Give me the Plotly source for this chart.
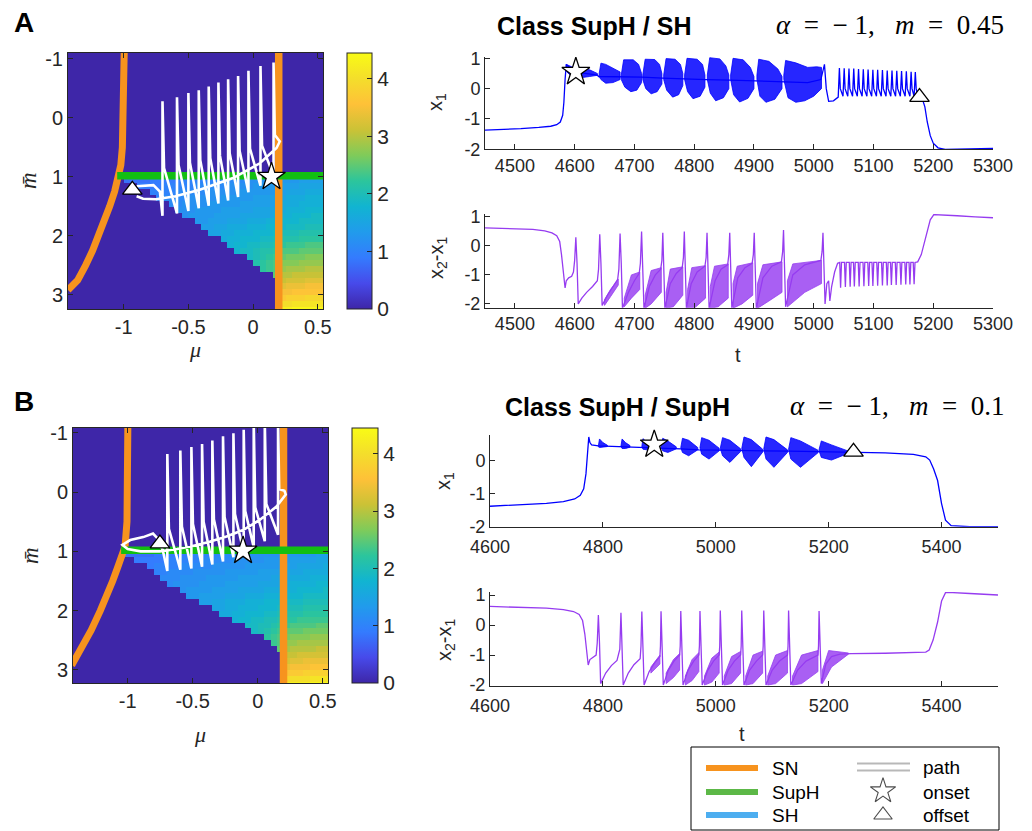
import plotly.graph_objects as go

W, H = 1032, 831

# ---------------- heatmap grid ----------------
MU_COLS = [-1.425 + 0.05 * j for j in range(40)]
MBAR_ROWS = [-1.05 + 0.1 * i for i in range(44)]
N_ZERO_ROWS = 21   # rows above m=1 are all 0

# values x10 for rows m = 1.05 ... 3.25 (leading zeros implied)
A_rows = [
    [8,8,8,8,9,9,9,9,9,10,10,10,10,10,11,11,11,11,11,12,12,12,12,12, 13,13,13,14,14,14,14],
    [9,9,9,9,10,10,10,10,10,11,11,11,11,11,12,12,12,12,13,13,13,13, 14,14,14,15,15,15,15],
    [10,10,10,10,11,11,11,11,11,12,12,12,12,12,13,13,13,13,13,13, 14,15,15,15,16,16,16],
    [10,11,11,11,11,12,12,12,12,12,13,13,13,13,13,14,14,14,14, 15,16,16,16,17,17,17],
    [11,11,12,12,12,12,13,13,13,13,13,14,14,14,14,14,14, 16,16,16,17,17,17,17],
    [12,12,12,13,13,13,13,14,14,14,14,14,15,15,15,15, 16,17,17,17,18,18,18],
    [12,13,13,13,13,14,14,14,14,15,15,15,15,15,16, 17,17,18,18,18,19,19],
    [13,13,14,14,14,15,15,15,16,16,16,17,17, 18,18,18,19,19,19,19],
    [14,14,15,15,16,16,16,17,17,17,18,18, 18,19,19,19,20,20,20],
    [15,15,16,16,17,17,17,18,18,18,19, 20,20,20,21,21,21,21],
    [16,17,17,18,18,18,19,19,20, 21,21,21,22,22,22,22],
    [17,18,18,19,19,20,20,21, 22,23,23,23,24,24,24],
    [18,19,19,20,21,21,22, 24,24,24,25,25,25,25],
    [19,20,21,22,23, 25,26,26,26,27,27,27],
    [21,22,23,24, 27,27,27,28,28,28,28],
    [22,23,24, 28,29,29,29,30,30,30],
    [25, 30,30,31,31,31,31,31],
    [31,32,32,32,33,33,33],
    [33,34,34,34,35,35,35],
    [35,35,36,36,36,36,36],
    [37,38,38,38,39,39,39],
    [40,40,41,41,41,41,41],
    [43,43,44,44,44,44,44],
]
B_rows = [
    [8,8,8,8,8,9,9,9,9,9,10,10,10,10,10,11,11,11,11,11,12,12,12,12,12, 12,13,13,13,13,14,14],
    [9,9,9,9,9,10,10,10,10,10,11,11,11,11,11,12,12,12,12,12,13,13,13, 13,14,14,14,14,15,15],
    [9,10,10,10,10,11,11,11,11,11,12,12,12,12,12,13,13,13,13,13,13, 14,14,15,15,15,15,16],
    [10,10,11,11,11,11,12,12,12,12,12,13,13,13,13,13,14,14,14,14, 15,15,15,16,16,16,16],
    [11,11,11,12,12,12,12,13,13,13,13,13,14,14,14,14,14,15,15, 15,16,16,16,17,17,17],
    [11,12,12,12,12,13,13,13,13,14,14,14,14,14,15,15,15,15, 16,17,17,17,17,18,18],
    [12,13,13,13,13,14,14,14,14,15,15,15,15,16,16,16, 17,17,18,18,18,18,19],
    [13,13,14,14,14,14,15,15,15,16,16,16,17,17,17, 18,18,18,19,19,19,19],
    [14,14,15,15,16,16,16,17,17,17,18,18,18, 19,19,19,20,20,20,20],
    [15,15,16,16,17,17,17,18,18,18,19, 20,20,20,21,21,21,21],
    [16,16,17,17,18,18,18,19,19,20, 21,21,21,22,22,22,22],
    [17,18,18,19,19,20,20,21, 22,22,23,23,23,23,23],
    [19,19,20,20,21,22, 23,24,24,24,24,25,25],
    [19,20,21,22,23, 25,25,25,26,26,26,26],
    [22,23,24, 26,27,27,27,28,28,28],
    [23,24, 28,28,29,29,29,29,29],
    [25, 29,30,30,30,30,31,31],
    [31,31,32,32,32,32,32],
    [32,33,33,34,34,34,34],
    [34,35,35,35,36,36,36],
    [36,37,37,38,38,38,38],
    [39,40,40,40,41,41,41],
    [42,43,43,43,44,44,44],
]

# ---------------- bifurcation curves ----------------
A_sn_mbar = [-1.2, -0.5, 0.0, 0.5, 0.8, 1.0, 1.25, 1.5, 1.75, 2.0, 2.25, 2.5, 2.75, 2.92]
A_sn_mu = [-0.995, -0.998, -1.0, -1.01, -1.022, -1.04, -1.07, -1.108, -1.15, -1.19, -1.24, -1.294, -1.355, -1.43]
B_sn_mbar = [-1.2, -0.5, 0.0, 0.5, 0.92, 1.0, 1.26, 1.5, 1.76, 2.0, 2.33, 2.6, 2.89, 2.92]
B_sn_mu = [-0.998, -1.0, -1.0, -1.005, -1.02, -1.03, -1.075, -1.115, -1.16, -1.21, -1.28, -1.345, -1.41, -1.43]
SN2_MU = 0.198
SUPH_MBAR = 0.98
SUPH_MU_START = -1.05

# ---------------- trajectory (path) ----------------
A_start_mu = [-0.90, -0.77, -0.72]
A_start_mbar = [1.16, 1.14, 1.25]
A_spike_mu = [-0.70, -0.588, -0.50, -0.42, -0.343, -0.268, -0.193, -0.116, -0.036, 0.057, 0.158]
A_spike_top = [-0.28, -0.35, -0.42, -0.47, -0.53, -0.60, -0.656, -0.71, -0.80, -0.88, -0.94]
A_spike_bot = [1.66, 1.62, 1.58, 1.53, 1.49, 1.45, 1.40, 1.34, 1.26, 1.15, 0.98]
A_split_mu = [-0.688, -0.576, -0.488, -0.408, -0.331, -0.256, -0.181, -0.104, -0.024, 0.069]
A_split_mbar = [0.85, 0.80, 0.76, 0.72, 0.68, 0.64, 0.60, 0.56, 0.52, 0.47]
A_end_mu = [0.168, 0.206, 0.181, 0.052, -0.155, -0.412, -0.60, -0.75, -0.85, -0.90]
A_end_mbar = [0.29, 0.40, 0.51, 0.77, 1.02, 1.22, 1.33, 1.38, 1.37, 1.33]
A_onset = (0.142, 1.0)
A_offset = (-0.933, 1.22)

B_start_mu = [-0.77, -0.73]
B_start_mbar = [0.78, 0.98]
B_spike_mu = [-0.695, -0.595, -0.51, -0.428, -0.349, -0.267, -0.187, -0.108, -0.031, 0.054, 0.156]
B_spike_top = [-0.64, -0.70, -0.76, -0.81, -0.87, -0.94, -0.99, -1.05, -1.2, -1.2, -1.2]
B_spike_bot = [1.33, 1.31, 1.29, 1.26, 1.22, 1.17, 1.10, 1.02, 0.93, 0.83, 0.72]
B_split_mu = [-0.683, -0.583, -0.498, -0.416, -0.337, -0.255, -0.175, -0.096, -0.019, 0.066]
B_split_mbar = [0.62, 0.58, 0.54, 0.50, 0.46, 0.42, 0.37, 0.32, 0.26, 0.20]
B_end_mu = [0.165, 0.205, 0.215, 0.144, 0.015, -0.113, -0.24, -0.37, -0.50, -0.62, -0.754, -0.90, -1.0, -1.04, -0.98, -0.88, -0.805, -0.77]
B_end_mbar = [-0.05, -0.02, 0.04, 0.245, 0.47, 0.64, 0.75, 0.84, 0.91, 0.96, 1.0, 1.0, 0.96, 0.89, 0.81, 0.76, 0.70, 0.78]
B_onset = (-0.113, 0.99)
B_offset = (-0.752, 0.87)

# ---------------- time series A ----------------
A_x1_t = [4450, 4480, 4510, 4540, 4560, 4570, 4576, 4580, 4582, 4584, 4586, 4600, 4620, 4638, 4640,
          4677, 4713, 4747, 4782, 4820, 4860, 4902, 4948, 4990, 5012, 5018, 5021, 5025, 5033, 5040,
          5041, 5043, 5044.5, 5049, 5051, 5052.5, 5057, 5059, 5060.5, 5065, 5067, 5068.5,
          5073, 5075, 5076.5, 5081, 5083, 5084.5, 5089, 5091, 5092.5, 5097, 5099, 5100.5,
          5105, 5107, 5108.5, 5113, 5115, 5116.5, 5121, 5123, 5124.5, 5129, 5131, 5132.5,
          5137, 5139, 5140.5, 5145, 5147, 5148.5, 5153, 5155, 5156.5, 5161, 5163, 5164.5,
          5168, 5170, 5171.5,
          5174, 5178, 5182, 5186, 5190, 5195, 5200, 5208, 5220, 5250, 5300]
A_x1_v = [-1.37, -1.35, -1.32, -1.28, -1.24, -1.19, -1.10, -0.88, -0.45, 0.30, 0.80, 0.55, 0.50, 0.45, 0.40,
          0.40, 0.38, 0.35, 0.32, 0.30, 0.28, 0.25, 0.22, 0.20, 0.30, 0.80, 0.0, -0.42, -0.40, -0.30,
          -0.28, 0.68, 0.0, -0.25, 0.67, 0.0, -0.25, 0.66, 0.0, -0.25, 0.66, 0.0,
          -0.25, 0.65, 0.0, -0.25, 0.64, 0.0, -0.25, 0.63, 0.0, -0.25, 0.62, 0.0,
          -0.25, 0.62, 0.0, -0.25, 0.61, 0.0, -0.25, 0.60, 0.0, -0.25, 0.60, 0.0,
          -0.25, 0.59, 0.0, -0.25, 0.58, 0.0, -0.25, 0.57, 0.0, -0.25, 0.56, 0.0,
          -0.25, 0.55, 0.0,
          -0.25, -0.28, -0.35, -0.6, -1.1, -1.55, -1.8, -1.95, -2.0, -1.99, -1.97]
A_x1_packets = [
    ([(4586, 0.80), (4595, 0.72), (4610, 0.68), (4625, 0.62), (4638, 0.50)], [(4638, 0.44), (4625, 0.40), (4610, 0.36), (4595, 0.40), (4587, 0.55)]),
    ([(4641, 0.50), (4644, 0.84), (4652, 0.80), (4664, 0.68), (4676, 0.55)], [(4676, 0.30), (4664, 0.20), (4652, 0.18), (4644, 0.30), (4641, 0.40)]),
    ([(4678, 0.45), (4682, 0.95), (4698, 0.95), (4707, 0.80), (4712, 0.50)], [(4712, 0.20), (4704, -0.05), (4694, -0.10), (4684, 0.05), (4678, 0.30)]),
    ([(4714, 0.45), (4718, 0.97), (4734, 0.96), (4742, 0.80), (4746, 0.50)], [(4746, 0.15), (4738, -0.10), (4728, -0.17), (4719, 0.00), (4714, 0.30)]),
    ([(4749, 0.45), (4753, 0.99), (4768, 0.97), (4777, 0.80), (4781, 0.50)], [(4781, 0.10), (4774, -0.20), (4764, -0.28), (4754, -0.05), (4749, 0.30)]),
    ([(4784, 0.45), (4788, 1.00), (4805, 0.97), (4814, 0.80), (4818, 0.45)], [(4818, 0.05), (4810, -0.25), (4798, -0.33), (4789, -0.10), (4784, 0.30)]),
    ([(4822, 0.45), (4826, 1.02), (4843, 0.98), (4853, 0.75), (4858, 0.45)], [(4858, 0.00), (4849, -0.30), (4836, -0.40), (4827, -0.15), (4822, 0.30)]),
    ([(4861, 0.45), (4865, 1.00), (4882, 0.95), (4894, 0.70), (4900, 0.40)], [(4900, 0.00), (4890, -0.32), (4876, -0.44), (4866, -0.20), (4861, 0.30)]),
    ([(4905, 0.45), (4908, 0.97), (4925, 0.90), (4940, 0.65), (4947, 0.40)], [(4947, 0.00), (4935, -0.35), (4920, -0.45), (4910, -0.25), (4905, 0.30)]),
    ([(4950, 0.45), (4953, 0.93), (4970, 0.85), (4990, 0.70), (5005, 0.72), (5013, 0.70)], [(5013, 0.00), (5000, -0.25), (4985, -0.40), (4970, -0.45), (4957, -0.30), (4950, 0.30)]),
]
A_x1_onset = (4602, 0.55)
A_x1_offset = (5177, -0.28)

A_d_t = [4450, 4500, 4530, 4550, 4562, 4570, 4575, 4578, 4581, 4584, 4586, 4590, 4595, 4598, 4600, 4602, 4604, 4606,
         4612, 4620, 4630, 4638, 4640, 4642, 4644, 4646,
         4655, 4665, 4672, 4674, 4676, 4678, 4680,
         4690, 4700, 4708, 4710, 4712, 4714, 4716,
         4725, 4735, 4744, 4746, 4747.5, 4749, 4751,
         4760, 4770, 4780, 4782, 4783.5, 4785, 4787,
         4795, 4805, 4818, 4820, 4821.5, 4823, 4825,
         4835, 4845, 4856, 4858, 4859.5, 4861, 4863,
         4873, 4885, 4897, 4899, 4900.5, 4902, 4904,
         4915, 4930, 4946, 4948, 4949.5, 4951, 4953,
         4965, 4985, 5012, 5014, 5015.5, 5017, 5019, 5022, 5025, 5027, 5030, 5035, 5040,
         5043.5, 5045, 5046.5, 5051.5, 5053, 5054.5, 5059.5, 5061, 5062.5, 5066.5, 5068, 5069.5,
         5074.5, 5076, 5077.5, 5082.5, 5084, 5085.5, 5090.5, 5092, 5093.5, 5097.5, 5099, 5100.5,
         5105.5, 5107, 5108.5, 5113.5, 5115, 5116.5, 5121.5, 5123, 5124.5, 5128.5, 5130, 5131.5,
         5136.5, 5138, 5139.5, 5144.5, 5146, 5147.5, 5152.5, 5154, 5155.5, 5159.5, 5161, 5162.5,
         5166.5, 5168, 5169.5,
         5174, 5180, 5188, 5195, 5201, 5215, 5240, 5270, 5300]
A_d_v = [0.62, 0.60, 0.57, 0.52, 0.45, 0.35, 0.15, -0.3, -1.0, -1.45, -1.2, -1.1, -1.05, -0.9, -0.5, 0.30, -0.6, -2.0,
         -1.8, -1.6, -1.4, -1.2, -0.8, 0.40, -0.6, -2.05,
         -1.7, -1.4, -1.15, -0.8, 0.43, -0.6, -2.15,
         -1.6, -1.2, -0.95, -0.6, 0.50, -0.6, -2.15,
         -1.4, -1.0, -0.8, -0.5, 0.45, -0.6, -2.15,
         -1.3, -0.95, -0.75, -0.4, 0.50, -0.6, -2.15,
         -1.3, -0.9, -0.7, -0.4, 0.45, -0.6, -2.15,
         -1.2, -0.8, -0.65, -0.3, 0.45, -0.6, -2.15,
         -1.1, -0.75, -0.6, -0.3, 0.45, -0.6, -2.15,
         -1.1, -0.7, -0.55, -0.2, 0.55, -0.6, -2.1,
         -1.0, -0.65, -0.5, -0.2, 0.45, -0.6, -2.0, -1.3, -1.2, -1.9, -1.4, -0.9, -0.6,
         -0.57, -1.44, -0.57, -0.57, -1.42, -0.57, -0.57, -1.41, -0.57, -0.57, -1.40, -0.57,
         -0.57, -1.40, -0.57, -0.57, -1.39, -0.57, -0.57, -1.38, -0.57, -0.57, -1.38, -0.57,
         -0.57, -1.37, -0.57, -0.57, -1.36, -0.57, -0.57, -1.36, -0.57, -0.57, -1.35, -0.57,
         -0.57, -1.35, -0.57, -0.57, -1.34, -0.57, -0.57, -1.33, -0.57, -0.57, -1.33, -0.57,
         -0.57, -1.32, -0.57,
         -0.55, -0.3, 0.3, 0.9, 1.08, 1.07, 1.04, 1.0, 0.97]
A_d_bands = [
    ([(4650, -1.85), (4660, -1.5), (4673, -1.15)], [(4673, -1.35), (4660, -1.75), (4650, -2.05)]),
    ([(4683, -1.8), (4695, -1.0), (4709, -0.9)], [(4709, -1.5), (4695, -1.8), (4683, -2.1)]),
    ([(4718, -1.7), (4728, -0.85), (4745, -0.75)], [(4745, -1.6), (4728, -2.0), (4718, -2.15)]),
    ([(4753, -1.6), (4760, -0.8), (4781, -0.72)], [(4781, -1.7), (4765, -2.1), (4753, -2.15)]),
    ([(4789, -1.5), (4796, -0.75), (4819, -0.68)], [(4819, -1.8), (4800, -2.15), (4789, -2.15)]),
    ([(4827, -1.4), (4834, -0.7), (4857, -0.62)], [(4857, -1.8), (4840, -2.1), (4827, -2.15)]),
    ([(4865, -1.3), (4872, -0.7), (4898, -0.58)], [(4898, -1.7), (4880, -2.0), (4865, -2.15)]),
    ([(4906, -1.3), (4915, -0.65), (4947, -0.55)], [(4947, -1.6), (4925, -1.9), (4906, -2.15)]),
    ([(4956, -1.2), (4965, -0.62), (5013, -0.5)], [(5013, -1.3), (4985, -1.6), (4956, -2.1)]),
]

# ---------------- time series B ----------------
B_x1_t = [4600, 4650, 4700, 4730, 4750, 4760, 4766, 4770, 4773, 4775, 4777, 4780,
          4792, 4830, 4866, 4900, 4938, 4970, 5008, 5046, 5085, 5130, 5180, 5244, 5300, 5350,
          5372, 5379, 5386, 5393, 5400, 5407, 5417, 5450, 5500]
B_x1_v = [-1.38, -1.34, -1.29, -1.24, -1.16, -1.05, -0.85, -0.4, 0.3, 0.72, 0.55, 0.48,
          0.45, 0.42, 0.40, 0.38, 0.36, 0.33, 0.32, 0.30, 0.30, 0.29, 0.28, 0.27, 0.24, 0.19,
          0.12, 0.02, -0.25, -0.6, -1.3, -1.8, -1.97, -2.0, -2.0]
B_x1_packets = [
    ([(4792, 0.45), (4794, 0.66), (4800, 0.55), (4808, 0.47)], [(4808, 0.43), (4800, 0.40), (4794, 0.40), (4792, 0.42)]),
    ([(4832, 0.44), (4834, 0.66), (4840, 0.55), (4848, 0.46)], [(4848, 0.41), (4840, 0.37), (4834, 0.37), (4832, 0.41)]),
    ([(4869, 0.43), (4871, 0.67), (4878, 0.56), (4888, 0.44)], [(4888, 0.39), (4878, 0.33), (4871, 0.35), (4869, 0.40)]),
    ([(4903, 0.42), (4906, 0.68), (4915, 0.60), (4930, 0.42)], [(4930, 0.36), (4915, 0.25), (4906, 0.30), (4903, 0.38)]),
    ([(4938, 0.40), (4941, 0.68), (4952, 0.62), (4968, 0.40)], [(4968, 0.33), (4952, 0.15), (4941, 0.25), (4938, 0.36)]),
    ([(4972, 0.40), (4975, 0.70), (4988, 0.62), (5006, 0.38)], [(5006, 0.30), (4988, 0.05), (4975, 0.20), (4972, 0.35)]),
    ([(5008, 0.38), (5012, 0.70), (5025, 0.62), (5044, 0.36)], [(5044, 0.28), (5025, -0.05), (5012, 0.15), (5008, 0.33)]),
    ([(5046, 0.37), (5050, 0.72), (5063, 0.64), (5083, 0.35)], [(5083, 0.26), (5063, -0.18), (5050, 0.10), (5046, 0.32)]),
    ([(5085, 0.36), (5089, 0.72), (5103, 0.64), (5127, 0.33)], [(5127, 0.25), (5103, -0.20), (5089, 0.05), (5085, 0.31)]),
    ([(5129, 0.35), (5133, 0.70), (5150, 0.60), (5181, 0.32)], [(5181, 0.24), (5150, -0.20), (5133, 0.05), (5129, 0.30)]),
    ([(5183, 0.34), (5187, 0.60), (5205, 0.48), (5240, 0.28)], [(5240, 0.26), (5205, 0.02), (5187, 0.10), (5183, 0.30)]),
]
B_x1_onset = (4891, 0.49)
B_x1_offset = (5244, 0.27)

B_d_t = [4600, 4650, 4700, 4730, 4748, 4758, 4764, 4768, 4771, 4774, 4777, 4782, 4788, 4790, 4792, 4794, 4796,
         4805, 4815, 4825, 4830, 4832, 4834, 4836,
         4845, 4855, 4866, 4867.5, 4869, 4871, 4873,
         4882, 4892, 4901, 4902, 4903, 4905, 4907,
         4916, 4926, 4936, 4937, 4938, 4940, 4942,
         4951, 4961, 4970, 4971, 4972, 4974, 4976,
         4986, 4996, 5006, 5007, 5008, 5010, 5012,
         5022, 5033, 5044, 5045, 5046, 5048, 5050,
         5060, 5072, 5083, 5084, 5085, 5087, 5089,
         5100, 5113, 5127, 5128, 5129, 5131, 5133,
         5145, 5160, 5181, 5182, 5183, 5185, 5187,
         5195, 5205, 5220, 5240, 5300, 5360, 5372, 5378, 5385, 5393, 5400, 5407, 5420, 5450, 5500]
B_d_v = [0.62, 0.60, 0.56, 0.51, 0.45, 0.35, 0.15, -0.3, -0.9, -1.33, -1.15, -1.08, -1.0, -0.6, 0.33, -0.6, -1.95,
         -1.6, -1.35, -1.18, -0.8, 0.41, -0.6, -2.0,
         -1.6, -1.32, -1.12, -0.7, 0.45, -0.6, -2.0,
         -1.55, -1.25, -1.05, -0.7, 0.46, -0.6, -2.0,
         -1.5, -1.2, -1.0, -0.7, 0.47, -0.6, -2.0,
         -1.5, -1.2, -1.0, -0.7, 0.47, -0.6, -2.0,
         -1.5, -1.2, -1.0, -0.7, 0.48, -0.6, -2.0,
         -1.5, -1.2, -1.0, -0.7, 0.48, -0.6, -2.0,
         -1.5, -1.2, -1.0, -0.7, 0.48, -0.6, -2.0,
         -1.5, -1.2, -1.0, -0.7, 0.48, -0.6, -2.0,
         -1.5, -1.2, -1.0, -0.7, 0.47, -0.6, -1.95,
         -1.3, -1.05, -0.97, -0.95, -0.94, -0.92, -0.9, -0.83, -0.5, 0.1, 0.8, 1.08, 1.08, 1.05, 1.0]
B_d_bands = [
    ([(4885, -1.4), (4901, -1.0)], [(4901, -1.3), (4885, -1.6)]),
    ([(4912, -1.6), (4925, -1.15), (4936, -0.95)], [(4936, -1.5), (4925, -1.75), (4912, -1.95)]),
    ([(4946, -1.7), (4958, -1.15), (4970, -0.92)], [(4970, -1.55), (4958, -1.85), (4946, -2.0)]),
    ([(4980, -1.7), (4993, -1.1), (5006, -0.9)], [(5006, -1.6), (4993, -1.9), (4980, -2.0)]),
    ([(5015, -1.7), (5028, -1.05), (5044, -0.88)], [(5044, -1.6), (5028, -1.95), (5015, -2.0)]),
    ([(5053, -1.7), (5066, -1.0), (5083, -0.87)], [(5083, -1.6), (5066, -1.95), (5053, -2.0)]),
    ([(5092, -1.7), (5106, -1.0), (5127, -0.85)], [(5127, -1.6), (5106, -1.95), (5092, -2.0)]),
    ([(5136, -1.7), (5152, -1.0), (5181, -0.85)], [(5181, -1.55), (5152, -1.95), (5136, -2.0)]),
    ([(5189, -1.5), (5200, -0.85), (5235, -0.93)], [(5235, -0.97), (5205, -1.4), (5189, -1.95)]),
]

# ---------------- legend ----------------
LEG_LINES = [('SN', '#f7931e'), ('SupH', '#5cb847'), ('SH', '#4daef0')]
LEG_MARKS = ['path', 'onset', 'offset']

# ---------------- styling ----------------
PARULA = [[0.0, '#3e26a8'], [0.1, '#474aea'], [0.2, '#347bfe'], [0.3, '#219bec'],
          [0.4, '#11b4d1'], [0.5, '#2cc59c'], [0.6, '#7fcb5a'], [0.7, '#cbc236'],
          [0.8, '#fec138'], [0.9, '#f4de2b'], [1.0, '#f9fb15']]
ORANGE = '#f7931e'
GREEN = '#12bf12'
BLUE = '#0000ff'
PURPLE = '#963cf0'
AX = '#262626'
SANS = 'Liberation Sans, Arial, sans-serif'
SERIF = 'Liberation Serif, Times New Roman, serif'
NB = '\u00a0'


def px(x):
    return x / W


def py(y):
    return 1 - y / H


def build_z(rows):
    z = [[0.0] * 40 for _ in range(N_ZERO_ROWS)]
    for vals in rows:
        z.append([0.0] * (40 - len(vals)) + [v / 10 for v in vals])
    return z


def build_path(s_mu, s_mb, sp_mu, sp_top, sp_bot, sl_mu, sl_mb, e_mu, e_mb):
    xs, ys = list(s_mu), list(s_mb)
    for k in range(len(sp_mu)):
        xs += [sp_mu[k], sp_mu[k]]
        ys += [sp_bot[k], sp_top[k]]
        if k < len(sl_mu):
            xs.append(sl_mu[k])
            ys.append(sl_mb[k])
    return xs + list(e_mu), ys + list(e_mb)


def polys(plist):
    xs, ys = [], []
    for top, bot in plist:
        pts = top + bot
        xs += [p[0] for p in pts] + [pts[0][0], None]
        ys += [p[1] for p in pts] + [pts[0][1], None]
    return xs, ys


fig = go.Figure()

panels = [
    dict(rows=A_rows, xa='x', ya='y', sn_mu=A_sn_mu, sn_mb=A_sn_mbar,
         path=build_path(A_start_mu, A_start_mbar, A_spike_mu, A_spike_top, A_spike_bot,
                         A_split_mu, A_split_mbar, A_end_mu, A_end_mbar),
         onset=A_onset, offset=A_offset, cb_x=347, cb_y=181, cb_len=256, cb_th=25),
    dict(rows=B_rows, xa='x2', ya='y2', sn_mu=B_sn_mu, sn_mb=B_sn_mbar,
         path=build_path(B_start_mu, B_start_mbar, B_spike_mu, B_spike_top, B_spike_bot,
                         B_split_mu, B_split_mbar, B_end_mu, B_end_mbar),
         onset=B_onset, offset=B_offset, cb_x=352, cb_y=555.5, cb_len=255, cb_th=26),
]

for p in panels:
    fig.add_trace(go.Heatmap(
        z=build_z(p['rows']), x=MU_COLS, y=MBAR_ROWS, xaxis=p['xa'], yaxis=p['ya'],
        colorscale=PARULA, zmin=0, zmax=4.45, zsmooth=False, hoverinfo='skip',
        colorbar=dict(x=px(p['cb_x']), xanchor='left', y=py(p['cb_y']), yanchor='middle',
                      len=p['cb_len'] / H, lenmode='fraction', thickness=p['cb_th'],
                      thicknessmode='pixels', outlinewidth=1, outlinecolor=AX,
                      ticks='inside', ticklen=5, tickcolor=AX, xpad=0, ypad=0,
                      tickvals=[0, 1, 2, 3, 4], tickfont=dict(size=21, color=AX, family=SANS))))
    fig.add_trace(go.Scatter(x=p['sn_mu'], y=p['sn_mb'], mode='lines', xaxis=p['xa'], yaxis=p['ya'],
                             line=dict(color=ORANGE, width=7), hoverinfo='skip'))
    fig.add_trace(go.Scatter(x=[SN2_MU, SN2_MU], y=[-1.3, 3.4], mode='lines', xaxis=p['xa'], yaxis=p['ya'],
                             line=dict(color=ORANGE, width=7.5), hoverinfo='skip'))
    fig.add_trace(go.Scatter(x=[SUPH_MU_START, 0.6], y=[SUPH_MBAR, SUPH_MBAR], mode='lines',
                             xaxis=p['xa'], yaxis=p['ya'], line=dict(color=GREEN, width=7.5), hoverinfo='skip'))
    fig.add_trace(go.Scatter(x=p['path'][0], y=p['path'][1], mode='lines', xaxis=p['xa'], yaxis=p['ya'],
                             line=dict(color='white', width=2.6), hoverinfo='skip'))
    fig.add_trace(go.Scatter(x=[p['offset'][0]], y=[p['offset'][1]], mode='markers', xaxis=p['xa'], yaxis=p['ya'],
                             marker=dict(symbol='triangle-up', size=17, color='white', line=dict(color='black', width=1.3))))
    fig.add_trace(go.Scatter(x=[p['onset'][0]], y=[p['onset'][1]], mode='markers', xaxis=p['xa'], yaxis=p['ya'],
                             marker=dict(symbol='star', size=21, color='white', line=dict(color='black', width=1.3))))

series = [
    (A_x1_t, A_x1_v, A_x1_packets, BLUE, 'rgba(0,0,255,0.85)', 'x3', 'y3', A_x1_onset, A_x1_offset),
    (A_d_t, A_d_v, A_d_bands, PURPLE, 'rgba(150,60,240,0.82)', 'x4', 'y4', None, None),
    (B_x1_t, B_x1_v, B_x1_packets, BLUE, 'rgba(0,0,255,0.85)', 'x5', 'y5', B_x1_onset, B_x1_offset),
    (B_d_t, B_d_v, B_d_bands, PURPLE, 'rgba(150,60,240,0.82)', 'x6', 'y6', None, None),
]
for t, v, pk, col, fcol, xa, ya, on, off in series:
    fig.add_trace(go.Scatter(x=t, y=v, mode='lines', xaxis=xa, yaxis=ya,
                             line=dict(color=col, width=1.3), hoverinfo='skip'))
    bx, by = polys(pk)
    fig.add_trace(go.Scatter(x=bx, y=by, mode='lines', fill='toself', fillcolor=fcol, xaxis=xa, yaxis=ya,
                             line=dict(color=col, width=0.8), hoverinfo='skip'))
    if on is not None:
        fig.add_trace(go.Scatter(x=[on[0]], y=[on[1]], mode='markers', xaxis=xa, yaxis=ya, cliponaxis=False,
                                 marker=dict(symbol='star', size=21, color='white', line=dict(color='black', width=1.3))))
        fig.add_trace(go.Scatter(x=[off[0]], y=[off[1]], mode='markers', xaxis=xa, yaxis=ya, cliponaxis=False,
                                 marker=dict(symbol='triangle-up', size=17, color='white', line=dict(color='black', width=1.3))))

# legend symbols on a full-page pixel overlay axis
fig.add_trace(go.Scatter(x=[883, 883], y=[791, 815], mode='markers', xaxis='x7', yaxis='y7', cliponaxis=False,
                         marker=dict(symbol=['star', 'triangle-up'], size=[19, 16], color='white',
                                     line=dict(color='black', width=1.1)), hoverinfo='skip'))


def hm_axes(x0, x1, y0, y1, xr, yr):
    common = dict(showline=True, linecolor=AX, linewidth=1, mirror='ticks', ticks='inside',
                  ticklen=5, tickcolor=AX, showgrid=False, zeroline=False,
                  tickfont=dict(size=20, color=AX, family=SANS))
    xa = dict(common, domain=[px(x0), px(x1)], range=xr, tickvals=[-1, -0.5, 0, 0.5],
              ticktext=['-1', '-0.5', '0', '0.5'])
    ya = dict(common, domain=[py(y1), py(y0)], range=yr, tickvals=[-1, 0, 1, 2, 3],
              ticktext=['-1', '0', '1', '2', '3'])
    return xa, ya


def ts_axes(x0, x1, y0, y1, xr, yr, xt, yt, xstand=0):
    common = dict(showline=True, linecolor=AX, linewidth=1, mirror=False, ticks='inside',
                  ticklen=5, tickcolor=AX, showgrid=False, zeroline=False,
                  tickfont=dict(size=18, color=AX, family=SANS))
    xa = dict(common, domain=[px(x0), px(x1)], range=xr, tickvals=xt, ticktext=[str(k) for k in xt],
              ticklabelstandoff=xstand)
    ya = dict(common, domain=[py(y1), py(y0)], range=yr, tickvals=yt, ticktext=[str(k) for k in yt])
    return xa, ya


xa1, ya1 = hm_axes(68, 323, 53, 309, [-1.43, 0.54], [3.24, -1.1])
xa2, ya2 = hm_axes(73, 328, 428, 683, [-1.42, 0.54], [3.22, -1.08])
tA = [4500, 4600, 4700, 4800, 4900, 5000, 5100, 5200, 5300]
tB = [4600, 4800, 5000, 5200, 5400]
xa3, ya3 = ts_axes(485, 993, 56.8, 149.3, [4450, 5300], [-2, 1.05], tA, [-2, -1, 0, 1])
xa4, ya4 = ts_axes(485, 993, 214, 307.7, [4450, 5300], [-2.13, 1.1], tA, [-2, -1, 0, 1])
xa5, ya5 = ts_axes(490, 998, 435, 526.7, [4600, 5500], [-2, 0.78], tB, [-2, -1, 0], 4)
xa6, ya6 = ts_axes(490, 998, 592, 685.7, [4600, 5500], [-2.02, 1.1], tB, [-2, -1, 0, 1], 4)

for i, (xa, ya) in enumerate([(xa1, ya1), (xa2, ya2), (xa3, ya3), (xa4, ya4), (xa5, ya5), (xa6, ya6)], start=1):
    s = '' if i == 1 else str(i)
    xa['anchor'] = 'y' + s
    ya['anchor'] = 'x' + s
    fig.layout['xaxis' + s] = xa
    fig.layout['yaxis' + s] = ya
fig.layout['xaxis7'] = dict(domain=[0, 1], range=[0, W], visible=False, anchor='y7', fixedrange=True)
fig.layout['yaxis7'] = dict(domain=[0, 1], range=[H, 0], visible=False, anchor='x7', fixedrange=True)


def ann(x, y, text, size, family=SANS, color='black', angle=0, xanchor='center'):
    fig.add_annotation(x=px(x), y=py(y), xref='paper', yref='paper', text=text, showarrow=False,
                       font=dict(size=size, family=family, color=color), textangle=angle,
                       xanchor=xanchor, yanchor='middle')


def math_label(m_value):
    return ('<i>α</i>' + NB * 2 + '=' + NB * 2 + '−' + NB + '1,' + NB * 3 +
            '<i>m</i>' + NB * 2 + '=' + NB * 2 + m_value)


ann(24, 23, '<b>A</b>', 28)
ann(24, 401, '<b>B</b>', 28)
ann(195, 349, '<i>μ</i>', 22, SERIF, AX)
ann(200, 734, '<i>μ</i>', 22, SERIF, AX)
ann(28, 181, '<i>m̄</i>', 23, SERIF, AX, -90)
ann(30, 556, '<i>m̄</i>', 23, SERIF, AX, -90)
ann(594, 26, '<b>Class SupH / SH</b>', 25)
ann(617, 407, '<b>Class SupH / SupH</b>', 25)
ann(1006, 25, math_label('0.45'), 27, SERIF, 'black', 0, 'right')
ann(1006, 406, math_label('0.1'), 27, SERIF, 'black', 0, 'right')
ann(437, 102, 'x<sub>1</sub>', 20, SANS, AX, -90)
ann(437, 258, 'x<sub>2</sub>-x<sub>1</sub>', 20, SANS, AX, -90)
ann(444, 481, 'x<sub>1</sub>', 20, SANS, AX, -90)
ann(445, 640, 'x<sub>2</sub>-x<sub>1</sub>', 20, SANS, AX, -90)
ann(738, 355, 't', 20, SANS, AX)
ann(742, 734, 't', 20, SANS, AX)

# legend box
shapes = [dict(type='rect', xref='paper', yref='paper', x0=px(691), x1=px(999), y0=py(830), y1=py(747),
               line=dict(color='black', width=1), fillcolor='white', layer='below')]
for (name, c), y in zip(LEG_LINES, [768, 792, 815]):
    shapes.append(dict(type='line', xref='paper', yref='paper', x0=px(706), x1=px(758), y0=py(y), y1=py(y),
                       line=dict(color=c, width=6)))
    ann(770, y, name, 19, SANS, 'black', 0, 'left')
shapes.append(dict(type='line', xref='paper', yref='paper', x0=px(857), x1=px(910), y0=py(767), y1=py(767),
                   line=dict(color='rgba(0,0,0,0.28)', width=9)))
shapes.append(dict(type='line', xref='paper', yref='paper', x0=px(857), x1=px(910), y0=py(767), y1=py(767),
                   line=dict(color='white', width=5)))
fig.update_layout(shapes=shapes)
for name, y in zip(LEG_MARKS, [767, 792, 815]):
    ann(921, y, name, 19, SANS, 'black', 0, 'left')

fig.update_layout(width=W, height=H, margin=dict(l=0, r=0, t=0, b=0), showlegend=False,
                  paper_bgcolor='white', plot_bgcolor='rgba(0,0,0,0)', template='none',
                  font=dict(family=SANS, color=AX))

fig.write_html('out.html', config={'displayModeBar': False, 'responsive': False},
               post_script="document.body.style.margin='0px';")
